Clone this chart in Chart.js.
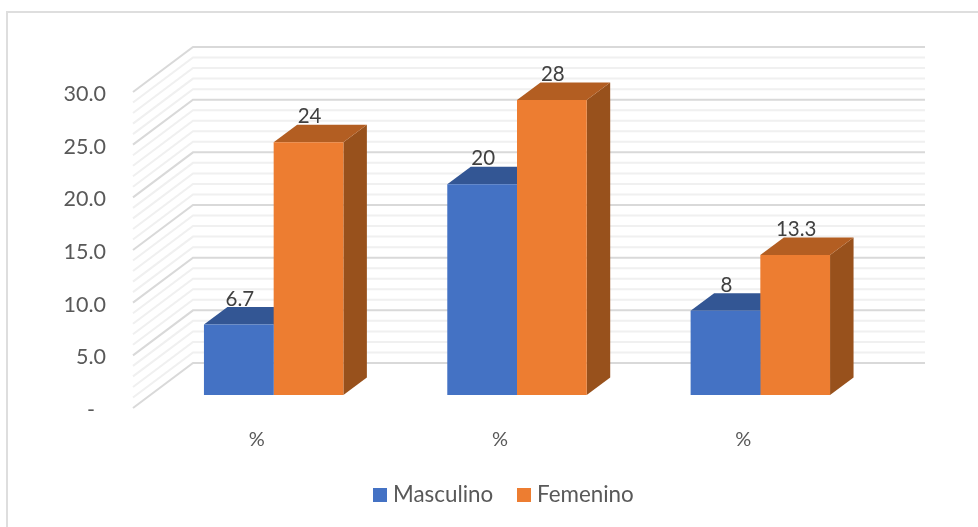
<!DOCTYPE html>
<html lang="es">
<head>
    <meta charset="UTF-8">
    <title>Masculino / Femenino</title>
    <script src="https://cdn.jsdelivr.net/npm/chart.js"></script>
    <style>
        html, body { margin: 0; padding: 0; background: #fff; overflow: hidden; }
        #wrap { width: 978px; height: 527px; }
    </style>
</head>
<body>
    <div id="wrap"><canvas id="grafico"></canvas></div>
    <script>
        var categorias = ["%", "%", "%"];
        var masculino = [6.7, 20, 8];
        var femenino = [24, 28, 13.3];
        // el cero lleva espacios a la derecha, como el formato contable
        var etiquetasEjeY = ["-  ", "5.0", "10.0", "15.0", "20.0", "25.0", "30.0"];

        // profundidad del piso y de las columnas, en pixeles
        var paredFrente = { dx: -19, dy: 13 };
        var paredFondo = { dx: 41, dy: -32 };
        var paredDerecha = 925;
        var columna = { dx: 23.5, dy: -17.5 };

        var fuente = "Lato";

        function linea(ctx, puntos, color, ancho) {
            ctx.beginPath();
            ctx.moveTo(puntos[0][0], puntos[0][1]);
            for (var i = 1; i < puntos.length; i++) ctx.lineTo(puntos[i][0], puntos[i][1]);
            ctx.strokeStyle = color;
            ctx.lineWidth = ancho;
            ctx.stroke();
        }

        function cara(ctx, puntos, color) {
            ctx.beginPath();
            ctx.moveTo(puntos[0][0], puntos[0][1]);
            for (var i = 1; i < puntos.length; i++) ctx.lineTo(puntos[i][0], puntos[i][1]);
            ctx.closePath();
            ctx.fillStyle = color;
            ctx.fill();
        }

        var caras3d = {
            id: "caras3d",
            beforeDraw: function (chart) {
                var ctx = chart.ctx;
                ctx.save();
                ctx.fillStyle = "#fff";
                ctx.fillRect(0, 0, chart.width, chart.height);
                // recuadro: solo se ven el borde superior y el izquierdo
                linea(ctx, [[7, chart.height], [7, 12], [chart.width, 12]], "#dedede", 2);
                ctx.restore();
            },
            beforeDatasetsDraw: function (chart) {
                var ctx = chart.ctx;
                var y = chart.scales.y;
                var izq = chart.chartArea.left;

                // lineas de las paredes: menores cada 1, mayores cada 5
                ctx.save();
                for (var pasada = 0; pasada < 2; pasada++) {
                    for (var v = y.min; v <= y.max; v++) {
                        var mayor = v % 5 === 0;
                        if (mayor !== (pasada === 1)) continue;
                        var py = y.getPixelForValue(v);
                        linea(ctx, [
                            [izq + paredFrente.dx, py + paredFrente.dy],
                            [izq + paredFondo.dx, py + paredFondo.dy],
                            [paredDerecha, py + paredFondo.dy]
                        ], mayor ? "#d9d9d9" : "#f0f0f0", 2);
                    }
                }

                // tapa y costado de cada columna, detras de la cara frontal
                var tonos = [
                    { tapa: "#335694", lado: "#2b4a80" },
                    { tapa: "#b35e22", lado: "#98511c" }
                ];
                chart.data.datasets.forEach(function (ds, d) {
                    chart.getDatasetMeta(d).data.forEach(function (bar) {
                        var p = bar.getProps(["x", "y", "base", "width"], true);
                        var l = p.x - p.width / 2;
                        var r = p.x + p.width / 2;
                        cara(ctx, [[r, p.y], [r + columna.dx, p.y + columna.dy],
                            [r + columna.dx, p.base + columna.dy], [r, p.base]], tonos[d].lado);
                        cara(ctx, [[l, p.y], [l + columna.dx, p.y + columna.dy],
                            [r + columna.dx, p.y + columna.dy], [r, p.y]], tonos[d].tapa);
                    });
                });
                ctx.restore();
            },
            afterDatasetsDraw: function (chart) {
                var ctx = chart.ctx;
                ctx.save();

                // valores sobre cada columna
                ctx.font = "20.5px " + fuente;
                ctx.fillStyle = "#404040";
                ctx.textAlign = "center";
                ctx.textBaseline = "middle";
                chart.data.datasets.forEach(function (ds, d) {
                    chart.getDatasetMeta(d).data.forEach(function (bar, i) {
                        var p = bar.getProps(["x", "y"], true);
                        ctx.fillText(String(ds.data[i]), p.x + 1, p.y + columna.dy - 8);
                    });
                });

                // leyenda: cuadro y texto mas juntos que en la de Chart.js
                var xs = [373, 517];
                ctx.font = "22.4px " + fuente;
                ctx.textAlign = "left";
                chart.data.datasets.forEach(function (ds, d) {
                    ctx.fillStyle = ds.backgroundColor;
                    ctx.fillRect(xs[d], 488, 14, 14);
                    ctx.fillStyle = "#595959";
                    ctx.fillText(ds.label, xs[d] + 20, 495);
                });
                ctx.restore();
            }
        };

        new Chart(document.getElementById("grafico"), {
            type: "bar",
            data: {
                labels: categorias,
                datasets: [
                    { label: "Masculino", data: masculino, backgroundColor: "#4472c4" },
                    { label: "Femenino", data: femenino, backgroundColor: "#ed7d31" }
                ]
            },
            options: {
                responsive: true,
                maintainAspectRatio: false,
                animation: false,
                categoryPercentage: 0.573,
                barPercentage: 1,
                layout: { padding: { top: 79, left: 0, right: 96, bottom: 0 } },
                plugins: {
                    title: { display: false },
                    tooltip: { enabled: false },
                    legend: { display: false }
                },
                scales: {
                    x: {
                        afterFit: function (s) { s.height = 132; },
                        grid: { display: false, drawTicks: false },
                        border: { display: false },
                        ticks: {
                            padding: 33,
                            labelOffset: -17,
                            maxRotation: 0,
                            color: "#595959",
                            font: { family: fuente, size: 20 }
                        }
                    },
                    y: {
                        min: 0,
                        max: 30,
                        afterFit: function (s) { s.width = 152; },
                        grid: { display: false, drawTicks: false },
                        border: { display: false },
                        ticks: {
                            stepSize: 5,
                            padding: 46,
                            labelOffset: 15,
                            color: "#595959",
                            font: { family: fuente, size: 21.5 },
                            callback: function (valor, i) { return etiquetasEjeY[i]; }
                        }
                    }
                }
            },
            plugins: [caras3d]
        });
    </script>
</body>
</html>
